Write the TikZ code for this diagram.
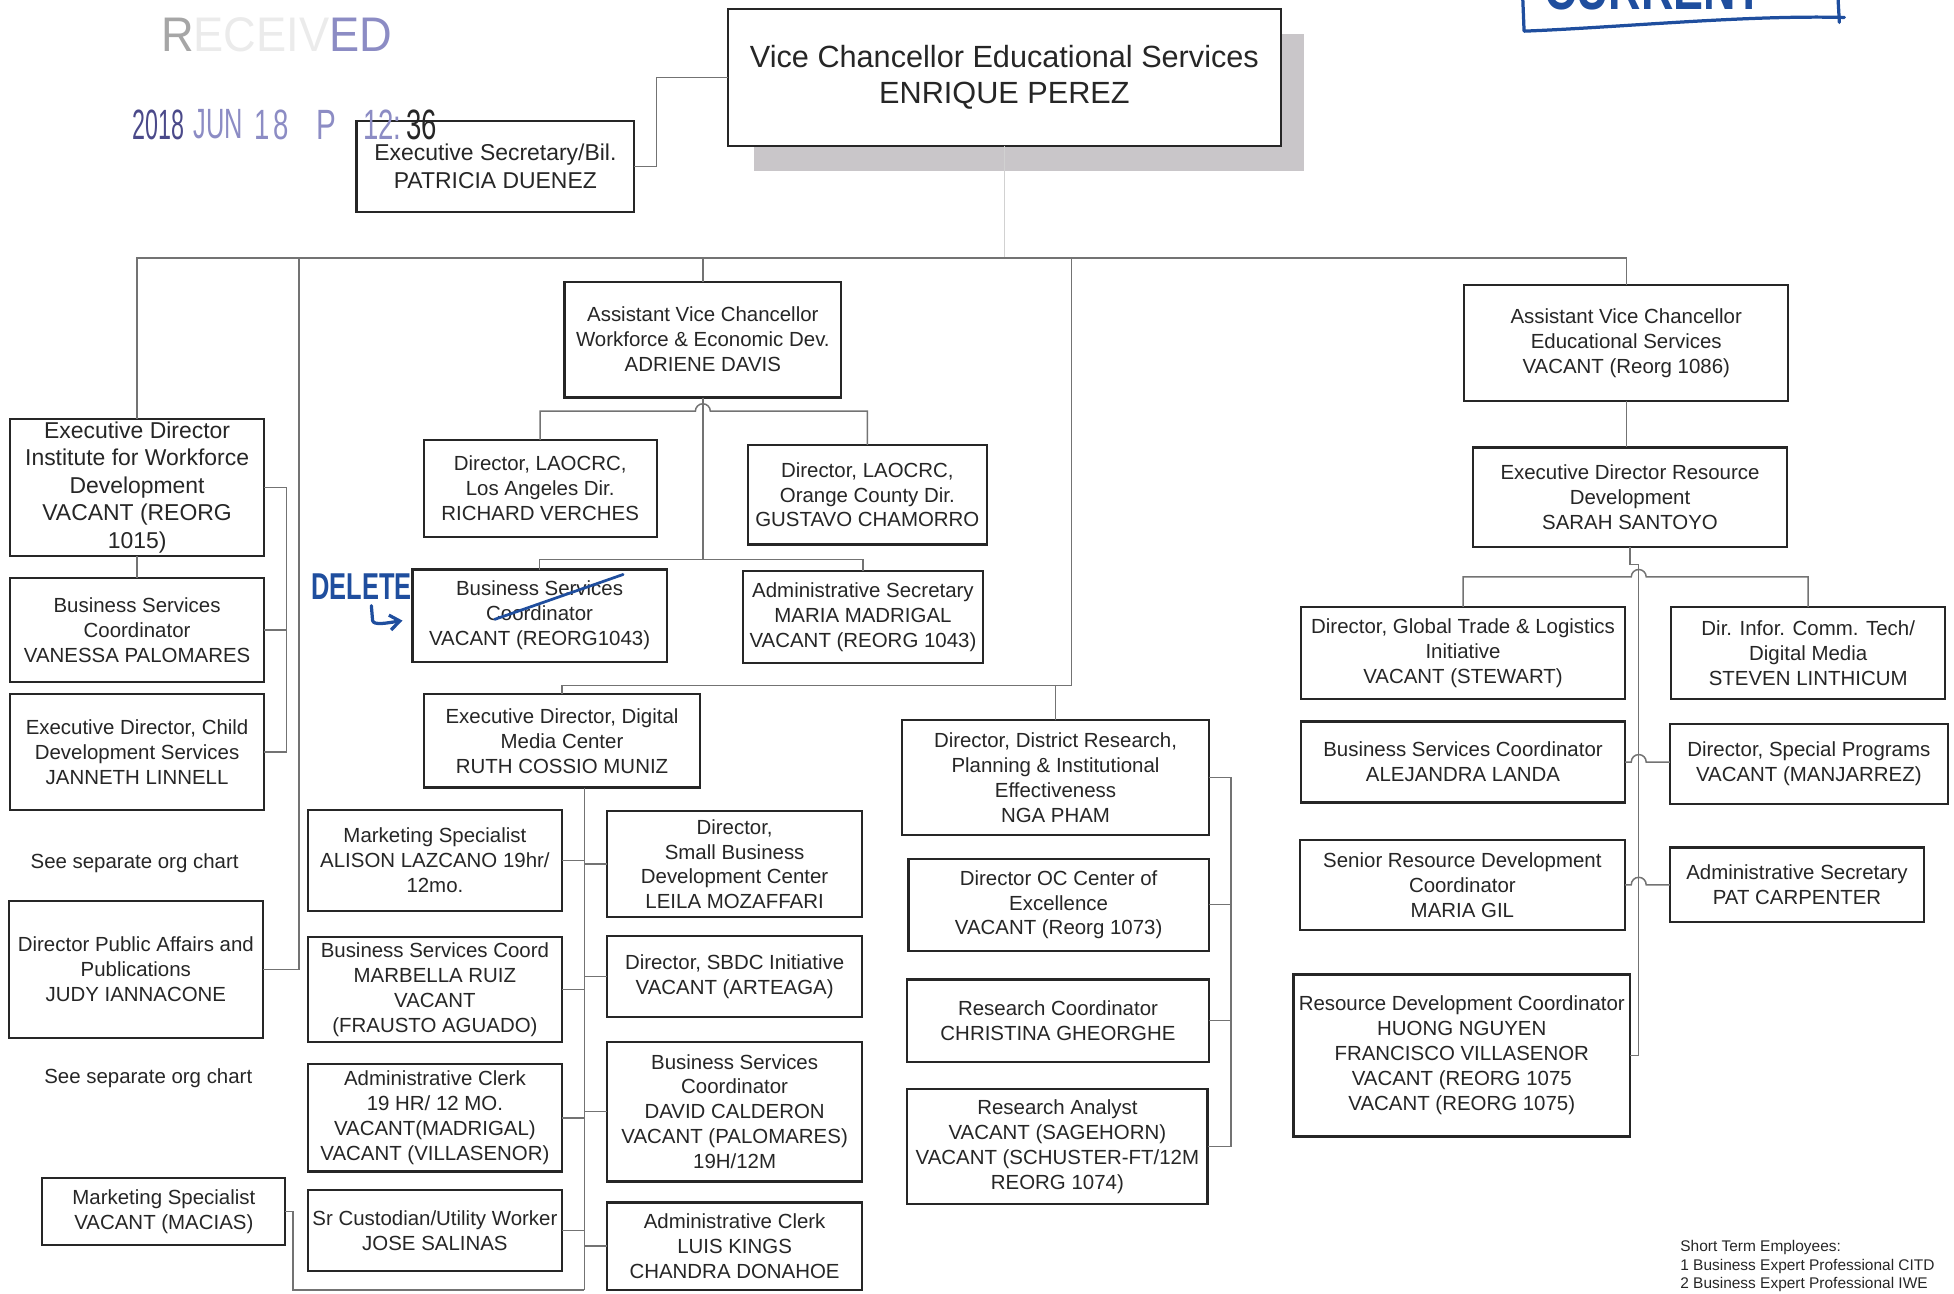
\documentclass[tikz,border=0pt]{standalone}
\usepackage{fontspec}
\setmainfont{Liberation Sans}
\usepackage{graphicx}
\usetikzlibrary{calc,arrows.meta}
\definecolor{ink}{HTML}{1F4E9E}
\definecolor{stampA}{HTML}{4B4A8A}
\definecolor{stampB}{HTML}{8C8CC4}
\definecolor{shadowgray}{HTML}{C9C6C9}
\tikzset{
  box/.style={draw=black!85, line width=0.9pt, fill=white, inner sep=0pt, outer sep=0pt,
    align=center, font=\fontsize{8.2}{10}\selectfont, text=black!85},
  bigbox/.style={box, font=\fontsize{9.2}{11}\selectfont},
  vcbox/.style={box, font=\fontsize{12.3}{14.5}\selectfont},
  conn/.style={draw=black!55, line width=0.6pt},
  faint/.style={draw=black!18, line width=0.5pt},
  inkline/.style={draw=ink, line width=1.3pt, line cap=round, line join=round},
  lbl/.style={font=\fontsize{8.2}{10}\selectfont, text=black!85, inner sep=0pt},
  small/.style={font=\fontsize{6.2}{7.5}\selectfont, text=black!85, inner sep=0pt, anchor=west},
}
\newcommand\bx[7][box]{%
  \pgfmathsetmacro\bw{(#5-#3)*0.5}%
  \pgfmathsetmacro\bh{(#6-#4)*0.5}%
  \node[#1,minimum width=\bw pt,minimum height=\bh pt] (#2) at ({(#3+#5)/2},{(#4+#6)/2}) {#7};}
\begin{document}
\begin{tikzpicture}[x=0.5pt,y=-0.5pt]
\useasboundingbox (0,0) rectangle (1568,1038);

% stamp
\node[inner sep=0pt, font=\fontsize{19.5}{20}\selectfont] (rcv) at (222,28)
  {\scalebox{0.93}[1]{\textcolor{black!35}{R}\textcolor{black!8}{ECEIV}\textcolor{stampB}{ED}}};
\node[inner sep=0pt, font=\fontsize{17}{18}\selectfont, text=stampA] (st1) at (127,100) {\scalebox{0.55}[1]{2018}};
\node[inner sep=0pt, font=\fontsize{17}{18}\selectfont, text=stampB] (st2) at (175,100) {\scalebox{0.6}[1]{JUN}};
\node[inner sep=0pt, font=\fontsize{17}{18}\selectfont, text=stampB] (st3) at (218,100) {\scalebox{0.65}[1]{1\,8}};
\node[inner sep=0pt, font=\fontsize{17}{18}\selectfont, text=stampB] (st4) at (262,100) {\scalebox{0.7}[1]{P}};

% handwritten top-right box
\node[inner sep=0pt, anchor=base, font=\bfseries\fontsize{24}{24}\selectfont, text=ink] (cur) at (1327,8) {\scalebox{0.75}[1]{CURRENT}};
\draw[inkline] (1222,0) -- (1223,25) .. controls (1300,22) and (1400,12) .. (1480,14);
\draw[inkline] (1475,0) -- (1476,18);

% VC shadow
\fill[shadowgray] (605,27) rectangle (1046,137);

% boxes
\bx[vcbox]{vc}{584}{7}{1028}{117}{Vice Chancellor Educational Services\\ENRIQUE PEREZ}
\bx[bigbox]{es}{286}{97}{509}{170}{Executive Secretary/Bil.\\PATRICIA DUENEZ}
\node[inner sep=0pt, font=\fontsize{17}{18}\selectfont] (st5) at (321,100) {\scalebox{0.65}[1]{\textcolor{stampB}{12:}\,\textcolor{black!85}{36}}};

\bx[bigbox]{iwd}{8}{336}{212}{446}{Executive Director\\Institute for Workforce\\Development\\VACANT (REORG\\1015)}
\bx{bsv}{8}{464}{212}{547}{Business Services\\Coordinator\\VANESSA PALOMARES}
\bx{cds}{8}{557}{212}{650}{Executive Director, Child\\Development Services\\JANNETH LINNELL}
\bx{pa}{7}{723}{211}{833}{Director Public Affairs and\\Publications\\JUDY IANNACONE}
\bx{mac}{34}{945}{229}{999}{Marketing Specialist\\VACANT (MACIAS)}
\node[lbl] (sep1) at (108,693) {See separate org chart};
\node[lbl] (sep2) at (119,865) {See separate org chart};

\bx{avcw}{453}{226}{675}{319}{Assistant Vice Chancellor\\Workforce \& Economic Dev.\\ADRIENE DAVIS}
\bx{la}{340}{353}{527}{431}{Director, LAOCRC,\\Los Angeles Dir.\\RICHARD VERCHES}
\bx{oc}{600}{357}{792}{437}{Director, LAOCRC,\\Orange County Dir.\\GUSTAVO CHAMORRO}
\bx{bsc}{331}{457}{535}{531}{Business Services\\Coordinator\\VACANT (REORG1043)}
\bx{ams}{596}{458}{789}{532}{Administrative Secretary\\MARIA MADRIGAL\\VACANT (REORG 1043)}

\bx{dmc}{340}{557}{562}{632}{Executive Director, Digital\\Media Center\\RUTH COSSIO MUNIZ}
\bx{ms1}{247}{650}{451}{731}{Marketing Specialist\\ALISON LAZCANO 19hr/\\12mo.}
\bx{bsm}{247}{752}{451}{836}{Business Services Coord\\MARBELLA RUIZ\\VACANT\\(FRAUSTO AGUADO)}
\bx{acl}{247}{854}{451}{940}{Administrative Clerk\\19 HR/ 12 MO.\\VACANT(MADRIGAL)\\VACANT (VILLASENOR)}
\bx{cus}{247}{955}{451}{1020}{Sr Custodian/Utility Worker\\JOSE SALINAS}
\bx{sbd}{487}{651}{692}{736}{Director,\\Small Business\\Development Center\\LEILA MOZAFFARI}
\bx{sbdc}{487}{751}{692}{816}{Director, SBDC Initiative\\VACANT (ARTEAGA)}
\bx{bsd}{487}{836}{692}{948}{Business Services\\Coordinator\\DAVID CALDERON\\VACANT (PALOMARES)\\19H/12M}
\bx{acl2}{487}{965}{692}{1035}{Administrative Clerk\\LUIS KINGS\\CHANDRA DONAHOE}

\bx{dr}{724}{578}{970}{670}{Director, District Research,\\Planning \& Institutional\\Effectiveness\\NGA PHAM}
\bx{oce}{729}{689}{970}{763}{Director OC Center of\\Excellence\\VACANT (Reorg 1073)}
\bx{rc}{728}{786}{970}{852}{Research Coordinator\\CHRISTINA GHEORGHE}
\bx{ra}{728}{874}{969}{966}{Research Analyst\\VACANT (SAGEHORN)\\VACANT (SCHUSTER-FT/12M\\REORG 1074)}

\bx{avce}{1175}{229}{1435}{322}{Assistant Vice Chancellor\\Educational Services\\VACANT (Reorg 1086)}
\bx{edrd}{1182}{359}{1434}{439}{Executive Director Resource\\Development\\SARAH SANTOYO}
\bx{gt}{1044}{487}{1304}{561}{Director, Global Trade \& Logistics\\Initiative\\VACANT (STEWART)}
\bx{dict}{1341}{487}{1561}{561}{Dir. Infor. Comm. Tech/\\Digital Media\\STEVEN LINTHICUM}
\bx{bsl}{1044}{579}{1304}{644}{Business Services Coordinator\\ALEJANDRA LANDA}
\bx{spp}{1340}{581}{1563}{645}{Director, Special Programs\\VACANT (MANJARREZ)}
\bx{gil}{1043}{674}{1304}{746}{Senior Resource Development\\Coordinator\\MARIA GIL}
\bx{pat}{1340}{680}{1544}{740}{Administrative Secretary\\PAT CARPENTER}
\bx{rdc}{1038}{782}{1308}{912}{Resource Development Coordinator\\HUONG NGUYEN\\FRANCISCO VILLASENOR\\VACANT (REORG 1075\\VACANT (REORG 1075)}

\node[small] (ste1) at (1348,1001) {Short Term Employees:};
\node[small] (ste2) at (1348,1016) {1 Business Expert Professional CITD};
\node[small] (ste3) at (1348,1031) {2 Business Expert Professional IWE};

% connectors
\coordinate (barL) at (110,207);
\draw[faint] (vc.south) -- (vc.south |- barL);
\draw[conn] (es.east) -- ++(18,0) |- (vc.west);
\draw[conn] (iwd.north) -- (iwd.north |- barL) -| (avce.north);
\draw[conn] (avcw.north) -- (avcw.north |- barL);
\coordinate (padrop) at (240,207);
\draw[conn] (pa.east) -| (padrop);
\coordinate (dj) at (860,207);
\coordinate (dmcj) at (860,550);
\draw[conn] (dj) -- (dmcj) -| (dmc.north);
\draw[conn] (dr.north) -- (dr.north |- dmcj);

\draw[conn] (iwd.south) -- (bsv.north);
\draw[conn] (iwd.east) -- ++(18,0) coordinate (kb) |- (cds.east);
\draw[conn] (bsv.east) -- (bsv.east -| kb);

\coordinate (wj1) at (564,330);
\coordinate (wj2) at (564,449);
\draw[conn] (avcw.south) -- (wj2);
\draw[conn] (la.north) |- ($(wj1)+(-6,0)$) arc(180:360:6) -| (oc.north);
\draw[conn] (bsc.north) |- (wj2) -| (ams.north);

\coordinate (spb) at (469,1035);
\draw[conn] (dmc.south -| spb) -- (spb);
\foreach \n in {ms1,bsm,acl,cus} \draw[conn] (\n.east) -- (\n.east -| spb);
\foreach \n in {sbd,sbdc,bsd,acl2} \draw[conn] (\n.west) -- (\n.west -| spb);
\draw[conn] (mac.east) -- ++(6,0) |- (spb);

\draw[conn] (dr.east) -- ++(18,0) coordinate (rb) |- (ra.east);
\draw[conn] (oce.east) -- (oce.east -| rb);
\draw[conn] (rc.east) -- (rc.east -| rb);

\draw[conn] (avce.south) -- (avce.south |- edrd.north);
\coordinate (rs) at (1315,847);
\draw[conn] (edrd.south) -- ++(0,14) -| (rs) -- (rdc.east);
\coordinate (gj) at (1315,463);
\draw[conn] (gt.north) |- ($(gj)+(-6,0)$) arc(180:360:6) -| (dict.north);
\draw[conn] (bsl.east) -- ($(bsl.east -| rs)+(-6,0)$) arc(180:360:6) -- (spp.west |- bsl.east);
\draw[conn] (gil.east) -- ($(gil.east -| rs)+(-6,0)$) arc(180:360:6) -- (pat.west |- gil.east);

% handwritten DELETE
\node[inner sep=0pt, font=\bfseries\fontsize{15}{15}\selectfont, text=ink] (del) at (290,471) {\scalebox{0.68}[1]{DELETE}};
\draw[inkline, -{Straight Barb[length=4pt,width=6pt]}] (298,486) -- (299,498) .. controls (300,502) and (310,500) .. (323,498);
\draw[inkline, line width=1.1pt] (397,497) -- (500,461);
\end{tikzpicture}
\end{document}
